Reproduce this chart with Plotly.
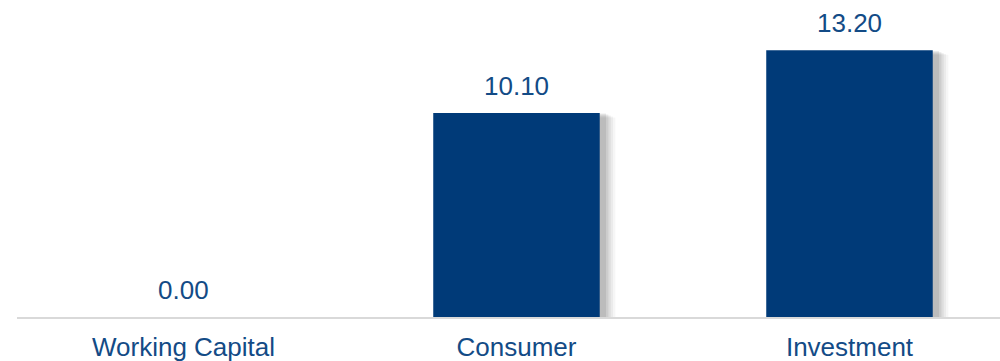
import plotly.graph_objects as go

categories = ["Working Capital", "Consumer", "Investment"]
values = [0.00, 10.10, 13.20]
value_labels = ["0.00", "10.10", "13.20"]

BAR_COLOR = "#003A78"
TEXT_COLOR = "#134B86"
FONT = "Arial, Liberation Sans, sans-serif"

fig = go.Figure()

# soft drop shadow layers (offset right/down, fading)
shadow_layers = [
    (0.036, 0.014, 0.22, 0.035),
    (0.030, 0.012, 0.18, 0.045),
    (0.024, 0.010, 0.13, 0.06),
    (0.018, 0.008, 0.08, 0.07),
    (0.012, 0.006, 0.03, 0.08),
]
for dx, dw, dy, op in shadow_layers:
    fig.add_trace(go.Bar(
        x=categories,
        y=[v - dy if v > 0 else 0 for v in values],
        width=0.5 + dw,
        offset=-0.25 + dx - dw / 2 + 0.004,
        marker=dict(color=f"rgba(0,0,0,{op})", line=dict(width=0)),
        hoverinfo="skip",
        showlegend=False,
    ))

fig.add_trace(go.Bar(
    x=categories,
    y=values,
    width=0.5,
    marker=dict(color=BAR_COLOR, line=dict(width=0)),
    showlegend=False,
))

for c, v, t in zip(categories, values, value_labels):
    fig.add_annotation(
        x=c, y=v, text=t, showarrow=False,
        yanchor="bottom", yshift=10,
        font=dict(family=FONT, size=26, color=TEXT_COLOR),
    )

fig.update_layout(
    width=1000, height=361,
    margin=dict(l=17, r=0, t=0, b=44),
    paper_bgcolor="white", plot_bgcolor="white",
    barmode="overlay",
    xaxis=dict(
        range=[-0.5, 2.452],
        showline=True, linecolor="#D9D9D9", linewidth=2,
        showgrid=False, zeroline=False,
        ticks="outside", ticklen=6, tickcolor="rgba(0,0,0,0)",
        tickfont=dict(family=FONT, size=26, color=TEXT_COLOR),
    ),
    yaxis=dict(
        range=[0, 15.69],
        visible=False,
    ),
)

fig.write_html("out.html")
